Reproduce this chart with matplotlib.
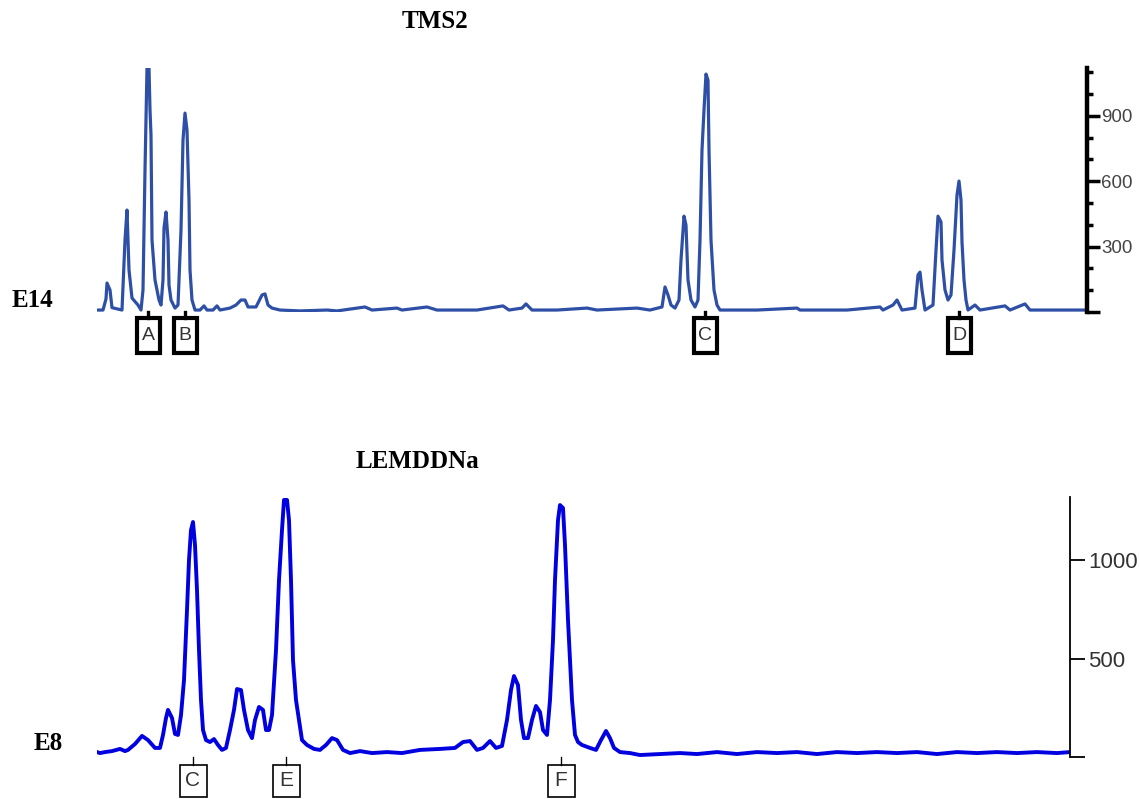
import matplotlib
matplotlib.use("Agg")
import matplotlib.pyplot as plt
import matplotlib.transforms as mtransforms
from matplotlib.patches import Rectangle
from matplotlib.ticker import FixedLocator

# ---- TMS2 / E14 trace (scan position, intensity) ----
tms2_pos = [0, 6, 9, 10, 13, 15, 25, 28, 30, 32, 35, 41, 44, 46, 48, 50, 52, 53, 54, 55,
            58, 62, 64, 66, 67, 69, 71, 72, 74, 78, 81, 84, 86, 88, 90, 92, 93, 95, 98, 103,
            107, 110, 116, 120, 123, 133, 139, 144, 148, 151, 159, 165, 168, 171, 175, 183, 203, 230, 240, 268,
            275, 300, 305, 330, 340, 380, 406, 412, 425, 429, 435, 460, 490, 500, 540, 553, 565, 568, 571, 574,
            578, 582, 584, 587, 589, 591, 594, 598, 601, 603, 605, 607, 609, 611, 612, 614, 617, 620, 623, 660,
            700, 703, 750, 783, 786, 796, 800, 805, 818, 821, 823, 825, 828, 836, 839, 841, 844, 845, 848, 851,
            854, 857, 860, 862, 864, 865, 867, 869, 871, 878, 883, 908, 913, 928, 933, 960, 990]
tms2_val = [9, 9, 60, 133, 101, 20, 9, 330, 468, 193, 64, 32, 9, 101, 651, 1119, 1119, 927, 812, 330,
            147, 55, 32, 147, 385, 459, 330, 124, 55, 18, 32, 376, 789, 913, 835, 514, 193, 55, 9, 9,
            28, 9, 9, 28, 9, 18, 32, 55, 55, 23, 23, 78, 83, 32, 18, 9, 5, 9, 5, 23,
            9, 18, 9, 23, 9, 9, 28, 9, 18, 37, 9, 9, 18, 9, 18, 9, 23, 115, 78, 32,
            18, 55, 239, 440, 399, 147, 55, 23, 55, 330, 743, 927, 1092, 1064, 743, 330, 101, 32, 9, 9,
            18, 9, 9, 23, 9, 32, 55, 9, 18, 170, 183, 101, 9, 32, 284, 440, 413, 239, 101, 55,
            78, 284, 537, 601, 514, 321, 147, 55, 9, 32, 9, 28, 9, 37, 9, 9, 9]
tms2_marks = ["A", "B", "C", "D"]
tms2_mark_pos = [51, 88, 608, 862]

# ---- LEMDDNa / E8 trace ----
lem_pos = [0, 3, 8, 15, 23, 28, 31, 38, 45, 51, 58, 63, 66, 69, 71, 75, 78, 81, 84, 87,
           90, 92, 94, 96, 98, 100, 102, 104, 106, 109, 113, 117, 121, 125, 129, 133, 137, 140, 144, 147,
           151, 155, 158, 162, 166, 169, 172, 175, 179, 182, 185, 187, 190, 192, 194, 196, 199, 202, 205, 210,
           217, 223, 229, 235, 240, 246, 253, 263, 275, 290, 305, 323, 343, 358, 366, 373, 380, 386, 393, 399,
           405, 410, 414, 417, 421, 424, 427, 431, 435, 439, 443, 446, 450, 453, 456, 458, 461, 463, 466, 468,
           471, 473, 475, 478, 481, 485, 493, 499, 504, 509, 513, 517, 523, 533, 543, 563, 583, 600, 620, 640,
           660, 680, 700, 720, 740, 760, 780, 800, 820, 840, 860, 880, 900, 920, 940, 960, 973]
lem_val = [25, 20, 25, 30, 41, 30, 36, 66, 107, 86, 46, 46, 112, 198, 239, 198, 117, 112, 213, 391,
           746, 1000, 1152, 1193, 1076, 848, 543, 289, 137, 86, 76, 91, 61, 36, 46, 137, 239, 345, 340, 239,
           137, 96, 188, 254, 239, 137, 137, 213, 543, 898, 1152, 1305, 1305, 1203, 898, 492, 289, 188, 86, 61,
           41, 36, 61, 96, 86, 36, 20, 30, 20, 25, 20, 36, 41, 46, 76, 81, 36, 46, 81, 46,
           56, 188, 340, 411, 365, 188, 96, 96, 188, 259, 228, 137, 112, 289, 594, 898, 1203, 1279, 1264, 1076,
           695, 492, 289, 112, 76, 61, 46, 36, 86, 132, 96, 46, 25, 20, 10, 15, 20, 15, 25, 15,
           25, 20, 25, 15, 25, 20, 25, 20, 25, 15, 25, 20, 25, 20, 25, 20, 25]
lem_marks = ["C", "E", "F"]
lem_mark_pos = [96, 189, 464]

W, H = 1140, 799
fig = plt.figure(figsize=(W / 100, H / 100), dpi=100)


def add_marks(ax, names, positions, box_w, y_top, y_bot, lw, fs, ax_h_px):
    trans = mtransforms.blended_transform_factory(ax.transData, ax.transAxes)
    for name, p in zip(names, positions):
        top = -y_top / ax_h_px
        bot = -y_bot / ax_h_px
        ax.plot([p, p], [0, top], color="black", lw=lw * 0.8, transform=trans, clip_on=False)
        ax.add_patch(Rectangle((p - box_w / 2, bot), box_w, top - bot, transform=trans,
                               fc="white", ec="black", lw=lw, clip_on=False))
        ax.text(p, (top + bot) / 2, name, transform=trans, ha="center", va="center",
                fontsize=fs, color="#333333", family="Liberation Sans")


# top panel
ax1 = fig.add_axes([97 / W, 1 - 312 / H, 990 / W, 244 / H])
ax1.plot(tms2_pos, tms2_val, color="#2e4fa6", lw=2.3)
ax1.set_xlim(0, 990)
ax1.set_ylim(0, 1120)
for s in ["top", "left", "bottom"]:
    ax1.spines[s].set_visible(False)
ax1.spines["right"].set_linewidth(3.2)
ax1.yaxis.tick_right()
ax1.set_xticks([])
ax1.yaxis.set_major_locator(FixedLocator([0, 300, 600, 900]))
ax1.yaxis.set_minor_locator(FixedLocator([100, 200, 400, 500, 700, 800, 1000, 1100]))
ax1.set_yticklabels(["", "300", "600", "900"])
ax1.tick_params(axis="y", which="major", direction="out", length=9, width=2.5, pad=1,
                labelsize=13.5, labelcolor="#444444")
ax1.tick_params(axis="y", which="minor", direction="out", length=4, width=2.5)
for t in ax1.get_yticklabels():
    t.set_family("Liberation Sans")
add_marks(ax1, tms2_marks, tms2_mark_pos, 23, 6, 41, 3.0, 14, 244)

# bottom panel
ax2 = fig.add_axes([97 / W, 1 - 757 / H, 973 / W, 260 / H])
ax2.plot(lem_pos, lem_val, color="#0000e0", lw=2.8)
ax2.set_xlim(0, 973)
ax2.set_ylim(0, 1320)
for s in ["top", "left", "bottom"]:
    ax2.spines[s].set_visible(False)
ax2.spines["right"].set_linewidth(1.3)
ax2.yaxis.tick_right()
ax2.set_xticks([])
ax2.set_yticks([0, 500, 1000])
ax2.set_yticklabels(["", "500", "1000"])
ax2.tick_params(axis="y", direction="out", length=11, width=1.3, pad=2,
                labelsize=16, labelcolor="#333333")
for t in ax2.get_yticklabels():
    t.set_family("Liberation Sans")
add_marks(ax2, lem_marks, lem_mark_pos, 27, 8, 40, 1.2, 15, 260)

# titles / row labels
serif = dict(family="Liberation Serif", weight="bold", fontsize=18, color="black")
fig.text(435 / W, 1 - 22 / H, "TMS2", ha="center", va="center", **serif)
fig.text(32 / W, 1 - 300 / H, "E14", ha="center", va="center", **serif)
fig.text(418 / W, 1 - 462 / H, "LEMDDNa", ha="center", va="center", **serif)
fig.text(48 / W, 1 - 744 / H, "E8", ha="center", va="center", **serif)

fig.savefig("out.png", dpi=100, facecolor="white")
